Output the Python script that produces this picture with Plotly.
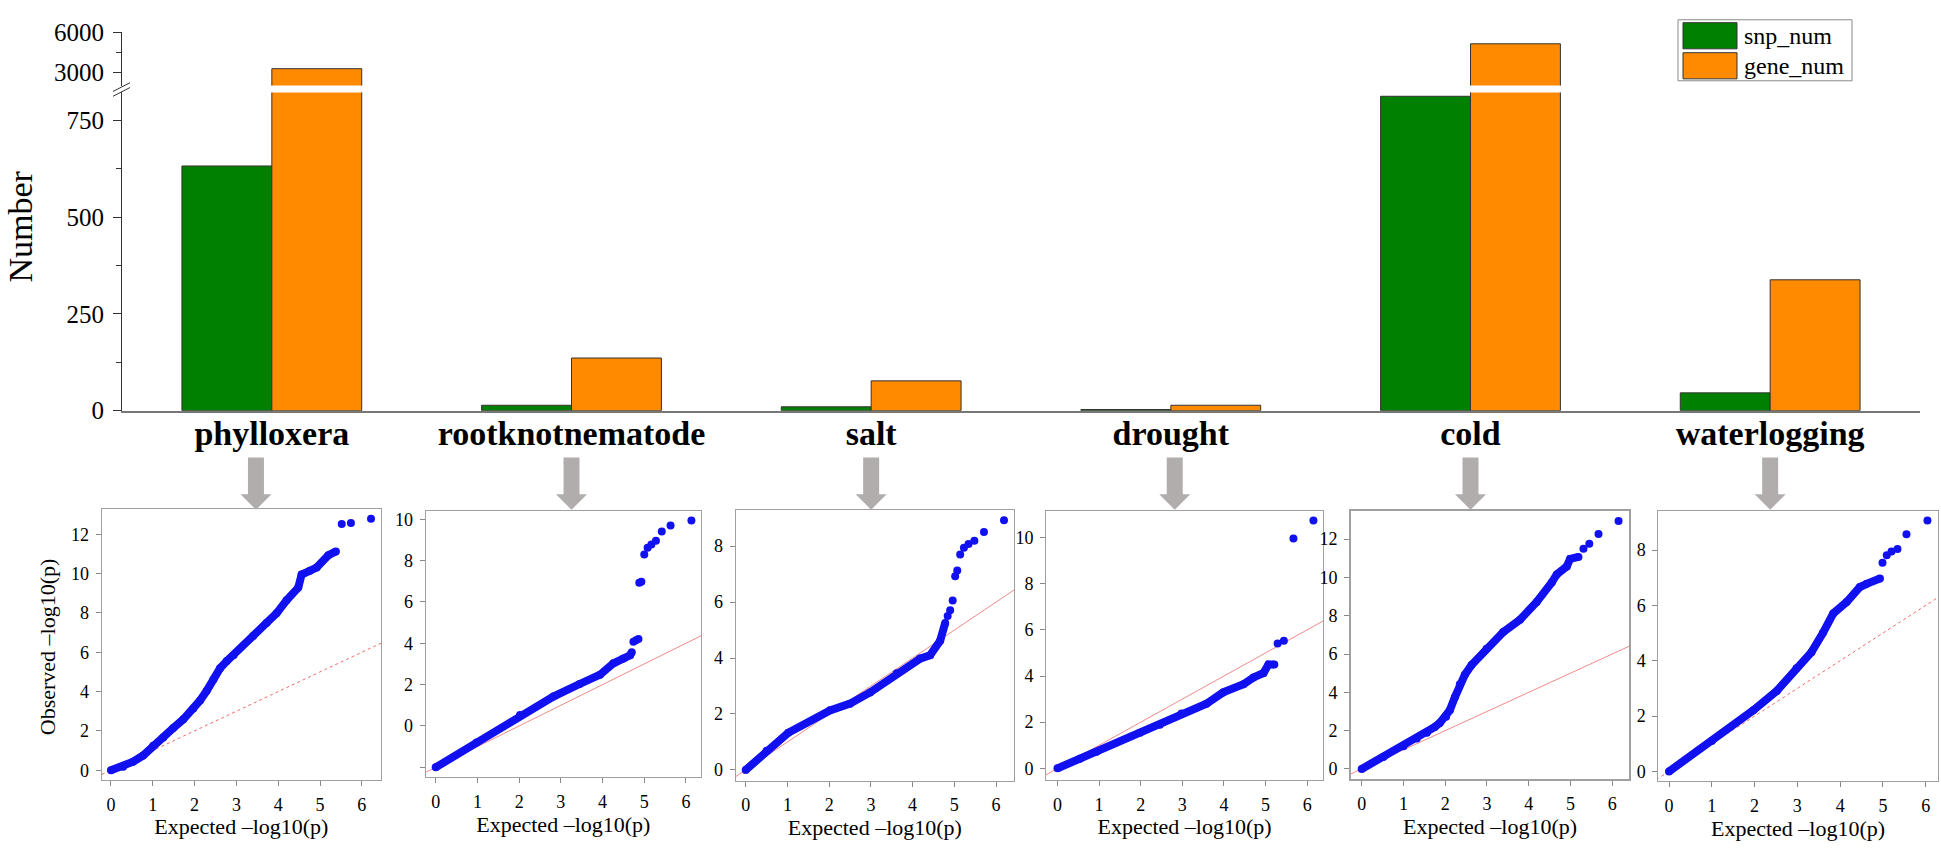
import plotly.graph_objects as go

W, H = 1941, 852
FONT = "Liberation Serif, Times New Roman, Times, serif"
GREEN = "#008000"
ORANGE = "#ff8a00"
BLUE = "#1010f0"

# ---------------- bar chart data ----------------
categories = ["phylloxera", "rootknotnematode", "salt", "drought", "cold", "waterlogging"]
snp_num = [632, 14, 10, 3, 812, 46]
gene_num = [3300, 136, 77, 14, 5150, 338]
lower_tick_vals = [0, 250, 500, 750]
lower_minor_vals = [125, 375, 625]
upper_tick_vals = [3000, 6000]
upper_minor_vals = [4500]

# ---------------- QQ plot data (expected, observed -log10 p) ----------------
phylloxera_band_x = [0.0, 0.29, 0.53, 0.77, 1.01, 1.25, 1.49, 1.73, 1.97, 2.13, 2.29, 2.45, 2.61, 2.77, 2.93,
                     3.40, 3.72, 3.96, 4.20, 4.48, 4.56, 4.76, 4.92, 5.20, 5.38]
phylloxera_band_y = [0.0, 0.18, 0.43, 0.75, 1.25, 1.66, 2.15, 2.59, 3.14, 3.55, 4.04, 4.61, 5.19, 5.55, 5.85,
                     6.83, 7.49, 7.98, 8.64, 9.29, 9.95, 10.15, 10.31, 10.94, 11.13]
phylloxera_tail_x = [5.52, 5.74, 6.22]
phylloxera_tail_y = [12.53, 12.58, 12.79]

rootknot_band_x = [0.0, 0.98, 2.02, 2.82, 3.45, 3.94, 4.26, 4.50, 4.66, 4.70]
rootknot_band_y = [0.0, 1.20, 2.53, 3.42, 4.03, 4.48, 5.03, 5.26, 5.42, 5.57]
rootknot_tail_x = [4.74, 4.80, 4.86, 4.88, 4.93, 5.00, 5.08, 5.17, 5.28, 5.42, 5.63, 6.13]
rootknot_tail_y = [6.07, 6.15, 6.20, 8.93, 8.98, 10.29, 10.62, 10.77, 10.96, 11.40, 11.70, 11.94]

salt_band_x = [0.0, 0.50, 1.02, 2.02, 2.50, 2.98, 3.62, 4.18, 4.42, 4.66, 4.78]
salt_band_y = [0.0, 0.69, 1.33, 2.13, 2.37, 2.77, 3.46, 3.98, 4.10, 4.62, 5.25]
salt_tail_x = [4.84, 4.90, 4.96, 5.02, 5.07, 5.14, 5.23, 5.34, 5.48, 5.71, 6.19]
salt_tail_y = [5.50, 5.71, 6.06, 6.92, 7.13, 7.70, 7.94, 8.08, 8.19, 8.50, 8.92]

drought_band_x = [0.0, 0.54, 0.94, 1.98, 2.46, 2.98, 3.58, 3.98, 4.47, 4.71, 4.95, 5.07, 5.21]
drought_band_y = [0.0, 0.42, 0.72, 1.54, 1.89, 2.38, 2.80, 3.29, 3.64, 3.94, 4.13, 4.50, 4.50]
drought_tail_x = [5.29, 5.44, 5.67, 6.15]
drought_tail_y = [5.41, 5.53, 9.96, 10.74]

cold_band_x = [0.0, 0.52, 1.00, 1.32, 1.56, 1.75, 1.87, 2.02, 2.11, 2.23, 2.35, 2.47, 2.63, 2.99, 3.39,
               3.79, 4.19, 4.55, 4.67, 4.91, 4.99, 5.19]
cold_band_y = [0.0, 0.63, 1.18, 1.59, 1.89, 2.19, 2.40, 2.73, 3.07, 3.74, 4.42, 4.92, 5.43, 6.27, 7.15,
               7.79, 8.72, 9.73, 10.15, 10.57, 10.96, 11.07]
cold_tail_x = [5.31, 5.45, 5.67, 6.15]
cold_tail_y = [11.50, 11.75, 12.27, 12.94]

waterlogging_band_x = [0.0, 1.00, 1.97, 2.52, 2.98, 3.33, 3.60, 3.84, 4.15, 4.46, 4.62, 4.93]
waterlogging_band_y = [0.0, 1.10, 2.21, 2.91, 3.73, 4.31, 5.01, 5.71, 6.12, 6.66, 6.78, 6.97]
waterlogging_tail_x = [4.99, 5.09, 5.20, 5.34, 5.55, 6.04]
waterlogging_tail_y = [7.54, 7.81, 7.95, 8.04, 8.57, 9.07]

qq_line = [-1.0, 8.0]

x_tick_vals = [0, 1, 2, 3, 4, 5, 6]


def px(p):
    return p / W


def py(p):
    return 1 - p / H


def tf(size, **kw):
    return dict(size=size, family=FONT, color="black", **kw)


fig = go.Figure()

# ---------------- bars (lower and upper broken axis) ----------------
for xa, ya in (("x", "y"), ("x2", "y2")):
    fig.add_trace(go.Bar(x=categories, y=snp_num, name="snp_num", xaxis=xa, yaxis=ya,
                         marker=dict(color=GREEN, line=dict(color="#333333", width=1)),
                         showlegend=False))
    fig.add_trace(go.Bar(x=categories, y=gene_num, name="gene_num", xaxis=xa, yaxis=ya,
                         marker=dict(color=ORANGE, line=dict(color="#333333", width=1)),
                         showlegend=False))

BAR_L, BAR_R = 122, 1920
layout = dict(
    width=W, height=H, autosize=False,
    margin=dict(l=0, r=0, t=0, b=0),
    paper_bgcolor="white", plot_bgcolor="rgba(0,0,0,0)",
    font=dict(family=FONT, color="black"),
    barmode="group", bargap=0.4, bargroupgap=0,
    showlegend=False,
    xaxis=dict(domain=[px(BAR_L), px(BAR_R)], anchor="y", type="category",
               range=[-0.5, 5.5], showline=True, linecolor="#777777", linewidth=1.5,
               ticks="", showgrid=False, zeroline=False,
               tickfont=tf(34, weight="bold"), ticklabelstandoff=-8),
    yaxis=dict(domain=[py(410.7), py(82)], anchor="x", range=[0, 822],
               tickvals=lower_tick_vals, ticks="outside", ticklen=8, tickcolor="#333333",
               showline=True, linecolor="#333333", linewidth=1, showgrid=False, zeroline=False,
               tickfont=tf(25), ticklabelstandoff=4,
               minor=dict(tickvals=lower_minor_vals, ticks="outside", ticklen=5,
                          tickcolor="#333333", showgrid=False)),
    xaxis2=dict(domain=[px(BAR_L), px(BAR_R)], anchor="y2", type="category",
                range=[-0.5, 5.5], visible=False),
    yaxis2=dict(domain=[py(75), py(20)], anchor="x2", range=[2040, 6000],
                tickvals=upper_tick_vals, ticks="outside", ticklen=8, tickcolor="#333333",
                showline=True, linecolor="#333333", linewidth=1, showgrid=False, zeroline=False,
                tickfont=tf(25), ticklabelstandoff=4,
                minor=dict(tickvals=upper_minor_vals, ticks="outside", ticklen=5,
                           tickcolor="#333333", showgrid=False)),
)

shapes = []
annotations = []

# axis break marks
for (x0, y0, x1, y1) in ((113, 81, 130, 72), (113, 86, 130, 77)):
    shapes.append(dict(type="line", xref="paper", yref="paper",
                       x0=px(x0), y0=py(y0), x1=px(x1), y1=py(y1),
                       line=dict(color="#333333", width=1)))

# custom legend
shapes.append(dict(type="rect", xref="paper", yref="paper", x0=px(1678), x1=px(1852),
                   y0=py(70), y1=py(7), line=dict(color="#8a8a8a", width=1), fillcolor="white"))
for (top, bot, col, name) in ((10, 37, GREEN, "snp_num"), (41, 68, ORANGE, "gene_num")):
    shapes.append(dict(type="rect", xref="paper", yref="paper", x0=px(1683), x1=px(1737),
                       y0=py(bot), y1=py(top), fillcolor=col,
                       line=dict(color="#333333", width=1)))
    annotations.append(dict(text=name, xref="paper", yref="paper", x=px(1742),
                            y=py((top + bot) / 2), xanchor="left", yanchor="middle",
                            showarrow=False, font=tf(24)))

# y title of bar chart
annotations.append(dict(text="Number", xref="paper", yref="paper", x=0, y=py(221),
                        textangle=-90, showarrow=False, xanchor="left", yanchor="middle",
                        font=tf(34)))

# gray arrows from each category to its QQ plot
arrow_offsets = [-0.053, 0, 0, 0.013, 0, 0]
for i, off in enumerate(arrow_offsets):
    c = BAR_L + (i + 0.5 + off) * (BAR_R - BAR_L) / 6
    path = (f"M {px(c-8)},{py(459)} L {px(c+8)},{py(459)} L {px(c+8)},{py(497)} "
            f"L {px(c+15.5)},{py(497)} L {px(c)},{py(513)} L {px(c-15.5)},{py(497)} "
            f"L {px(c-8)},{py(497)} Z")
    shapes.append(dict(type="path", xref="paper", yref="paper", path=path,
                       fillcolor="#b1adad", line=dict(width=0)))

# ---------------- QQ panels ----------------
panels = [
    dict(bx=phylloxera_band_x, by=phylloxera_band_y, tx=phylloxera_tail_x, ty=phylloxera_tail_y,
         l=101.7, r=381, t=512, b=792, xr=[-0.222, 6.459], yr=[-0.493, 13.30], dash="dot", lw=1),
    dict(bx=rootknot_band_x, by=rootknot_band_y, tx=rootknot_tail_x, ty=rootknot_tail_y,
         l=425.7, r=701, t=514, b=789, xr=[-0.24, 6.36], yr=[-0.468, 12.41], dash="solid", lw=1),
    dict(bx=salt_band_x, by=salt_band_y, tx=salt_tail_x, ty=salt_tail_y,
         l=735.7, r=1014, t=513, b=793, xr=[-0.24, 6.43], yr=[-0.39, 9.30], dash="solid", lw=1),
    dict(bx=drought_band_x, by=drought_band_y, tx=drought_tail_x, ty=drought_tail_y,
         l=1046, r=1323, t=514, b=792, xr=[-0.276, 6.38], yr=[-0.50, 11.16], dash="solid", lw=1),
    dict(bx=cold_band_x, by=cold_band_y, tx=cold_tail_x, ty=cold_tail_y,
         l=1351, r=1629, t=514, b=790.7, xr=[-0.256, 6.40], yr=[-0.506, 13.48], dash="solid", lw=2),
    dict(bx=waterlogging_band_x, by=waterlogging_band_y, tx=waterlogging_tail_x, ty=waterlogging_tail_y,
         l=1658.3, r=1937.7, t=514, b=793.3, xr=[-0.25, 6.28], yr=[-0.35, 9.42], dash="dot", lw=1),
]

for i, p in enumerate(panels):
    k = i + 3
    xa, ya = f"x{k}", f"y{k}"
    fig.add_trace(go.Scatter(x=qq_line, y=qq_line, mode="lines", xaxis=xa, yaxis=ya,
                             line=dict(color="#f26a6a" if p["dash"] == "dot" else "#f08a8a",
                                       width=1, dash=p["dash"]),
                             showlegend=False, hoverinfo="skip"))
    fig.add_trace(go.Scatter(x=p["bx"], y=p["by"], mode="lines+markers", xaxis=xa, yaxis=ya,
                             line=dict(color=BLUE, width=8),
                             marker=dict(color=BLUE, size=8),
                             showlegend=False))
    fig.add_trace(go.Scatter(x=p["tx"], y=p["ty"], mode="markers", xaxis=xa, yaxis=ya,
                             marker=dict(color=BLUE, size=8),
                             showlegend=False))
    yax = dict(domain=[py(p["b"]), py(p["t"])], anchor=xa, range=p["yr"],
               ticks="outside", ticklen=5, tickcolor="#888888",
               showline=True, mirror=True, linecolor="#a0a0a0", linewidth=p["lw"],
               showgrid=False, zeroline=False, tickfont=tf(18), ticklabelstandoff=3)
    if i == 1:
        yax.update(tickvals=[0, 2, 4, 6, 8, 10, 12], ticktext=["", "0", "2", "4", "6", "8", "10"])
    else:
        yax.update(tick0=0, dtick=2)
    layout[f"yaxis{k}"] = yax
    layout[f"xaxis{k}"] = dict(domain=[px(p["l"]), px(p["r"])], anchor=ya, range=p["xr"],
                               tickvals=x_tick_vals, ticks="outside", ticklen=5, tickcolor="#888888",
                               showline=True, mirror=True, linecolor="#a0a0a0", linewidth=p["lw"],
                               showgrid=False, zeroline=False, tickfont=tf(18), ticklabelstandoff=3,
                               title=dict(text="Expected –log10(p)", font=tf(22), standoff=2))

# stray "12" label above the rootknotnematode panel
annotations.append(dict(text="12", xref="paper", yref="y4", x=px(418), y=14,
                        xanchor="right", yanchor="middle", showarrow=False,
                        font=tf(18)))
# y title of the first QQ panel
annotations.append(dict(text="Observed –log10(p)", xref="paper", yref="paper", x=px(47), y=py(655),
                        textangle=-90, showarrow=False, xanchor="center", yanchor="middle",
                        font=tf(22)))

layout["shapes"] = shapes
layout["annotations"] = annotations
fig.update_layout(**layout)

fig.write_html("out.html", config={"displayModeBar": False},
               post_script="document.body.style.margin='0';document.body.style.overflow='hidden';")
